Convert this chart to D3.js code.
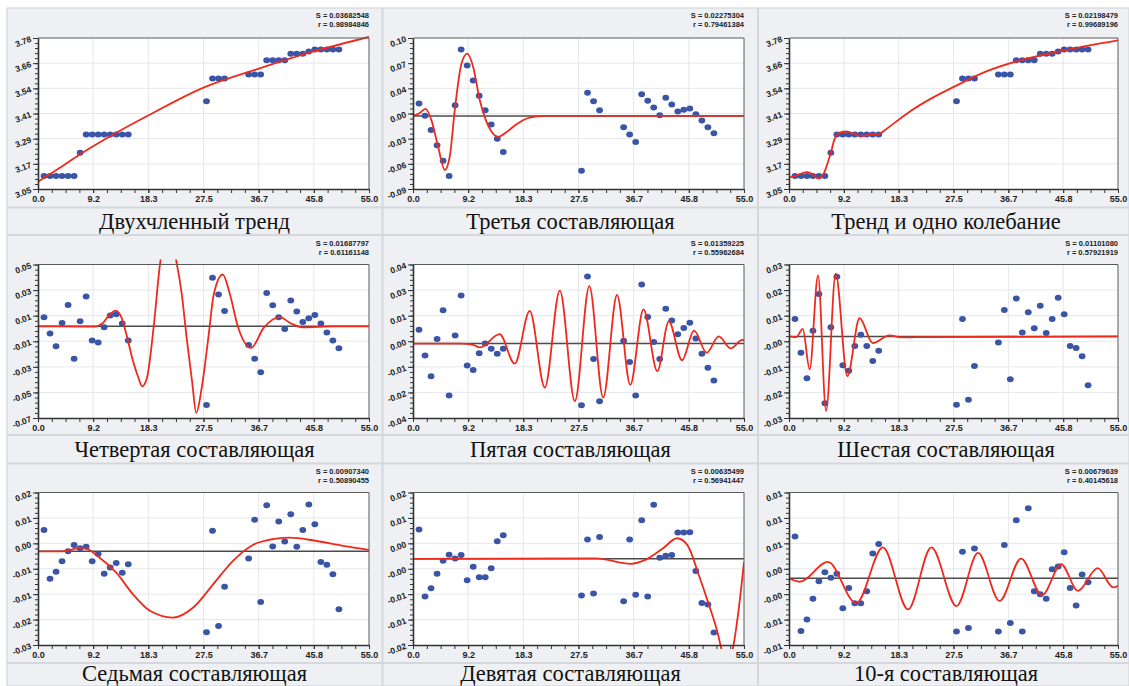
<!DOCTYPE html>
<html>
<head>
<meta charset="utf-8">
<script src="https://cdnjs.cloudflare.com/ajax/libs/d3/7.8.5/d3.min.js"></script>
<style>
  body { margin: 0; background: #fff; }
  svg { display: block; }
</style>
</head>
<body>
<div id="body"></div>
<script>
// x positions of the observations (same for every panel)
let xValues = [1, 2, 3, 4, 5, 6, 7, 8, 9, 10, 11, 12, 13, 14, 15,
  28, 29, 30, 31,
  35, 36, 37, 38, 39, 40, 41, 42, 43, 44, 45, 46, 47, 48, 49, 50]

let xTickLabels = ["0.0", "9.2", "18.3", "27.5", "36.7", "45.8", "55.0"]

// original series (panels 1 and 3)
let seriesLog = [3.113, 3.113, 3.113, 3.113, 3.113, 3.113, 3.225, 3.314, 3.314, 3.314, 3.314, 3.314, 3.314, 3.314, 3.314,
  3.474, 3.584, 3.584, 3.584,
  3.603, 3.603, 3.603, 3.672, 3.672, 3.672, 3.672, 3.704, 3.704, 3.704, 3.715, 3.724, 3.724, 3.724, 3.724, 3.724]

// residual components
let comp3 = [0.0176, 0.0021, -0.0159, -0.0348, -0.0544, -0.0737, 0.0155, 0.0854, 0.0653, 0.0464, 0.0272, 0.0092, -0.0088, -0.0268, -0.0435,
  -0.067, 0.031, 0.0205, 0.0092,
  -0.0122, -0.0214, -0.031, 0.0293, 0.0209, 0.0125, 0.0029, 0.0247, 0.0163, 0.0075, 0.0096, 0.0113, 0.0042, -0.0038, -0.0122, -0.0197]
let comp4 = [0.0088, -0.004, -0.0139, 0.0043, 0.0184, -0.0236, 0.0056, 0.025, -0.0095, -0.011, 0.001, 0.0101, 0.0111, 0.0038, -0.0095,
  -0.0598, 0.0396, 0.0265, 0.0137,
  -0.0129, -0.0236, -0.0343, 0.0278, 0.0182, 0.0088, -0.0004, 0.0218, 0.0132, 0.0051, 0.008, 0.0106, 0.0038, -0.0032, -0.0095, -0.0155]
let comp5 = [0.006, -0.0074, -0.0182, 0.0012, 0.0161, -0.0283, 0.003, 0.0239, -0.0126, -0.015, -0.0062, -0.0012, -0.0039, -0.0065, -0.0039,
  -0.0333, 0.0338, -0.0092, -0.0313,
  0.0002, -0.0108, -0.0283, 0.0296, 0.0126, -0.0004, -0.0092, 0.017, 0.0108, 0.0037, 0.0069, 0.0096, 0.0014, -0.0065, -0.0138, -0.0205]
let comp6 = [0.0087, -0.0045, -0.0145, 0.0041, 0.0185, -0.0242, 0.0055, 0.0252, -0.0094, -0.0115, -0.0019, 0.0025, -0.0019, -0.0077, -0.0037,
  -0.0248, 0.0087, -0.0229, -0.0097,
  -0.0005, 0.0122, -0.0149, 0.0167, 0.0034, 0.0113, 0.0051, 0.0139, 0.0032, 0.0087, 0.017, 0.0106, -0.0019, -0.0026, -0.0059, -0.0172]
let comp7 = [0.0077, -0.0083, -0.006, -0.0025, 0.0007, 0.0028, 0.0017, 0.0022, -0.0025, -0.0002, -0.0066, -0.0046, -0.0031, -0.0063, -0.0035,
  -0.0258, 0.0075, -0.0238, -0.0109,
  -0.0016, 0.0111, -0.0159, 0.0158, 0.0023, 0.0105, 0.0039, 0.0129, 0.0022, 0.0077, 0.0161, 0.0096, -0.0028, -0.0037, -0.0068, -0.0183]
let comp9 = [0.0103, -0.0073, -0.0051, -0.0013, 0.0021, 0.0037, 0.0027, 0.0036, -0.003, 0.0005, -0.0022, -0.0022, 0.0001, 0.0072, 0.0088,
  -0.007, 0.0077, -0.0065, 0.0083,
  -0.0085, 0.0077, -0.0068, 0.0127, -0.0073, 0.0168, 0.0029, 0.0034, 0.0036, 0.0095, 0.0095, 0.0096, -0.0006, -0.009, -0.0094, -0.0167]
let comp10 = [0.0062, -0.0105, -0.0085, -0.0048, -0.0017, -0.0001, -0.0011, -0.0004, -0.0065, -0.0029, -0.0056, -0.0056, -0.0035, 0.0032, 0.0049,
  -0.0106, 0.0035, -0.01, 0.0041,
  -0.0106, 0.0047, -0.0091, 0.0091, -0.0106, 0.0112, -0.0035, -0.004, -0.0048, 0.0004, 0.0009, 0.0034, -0.0029, -0.006, -0.0005, -0.0019]

// fitted curves, [x, y]
let fit1 = [[0, 3.085], [3.5, 3.15], [7, 3.218], [12, 3.305], [18.3, 3.405], [27.5, 3.54], [36.7, 3.632], [45.8, 3.715], [55, 3.785]]
let fit2 = [[0, 0.002], [1.0, 0.005], [2.1, 0.0109], [3.06, -0.0033], [4.17, -0.0368], [5.28, -0.0661], [6.1, -0.0494], [6.94, 0.0092],
  [8.06, 0.0678], [9.0, 0.0803], [10.0, 0.0636], [11.1, 0.0217], [12.1, -0.0033], [13.06, -0.018], [14.17, -0.0243], [15.6, -0.018],
  [17.2, -0.0084], [18.9, -0.0013], [20.6, 0.0013], [22.2, 0.002], [55, 0.002]]
let fit3 = [[0, 3.105], [1.5, 3.118], [2.9, 3.132], [4.0, 3.121], [4.85, 3.101], [5.7, 3.118], [6.2, 3.153], [7.0, 3.226], [7.6, 3.29],
  [8.5, 3.323], [9.6, 3.328], [11.0, 3.315], [12.1, 3.307], [13.2, 3.311], [14.3, 3.315], [15.2, 3.318], [16.0, 3.334], [17.7, 3.371],
  [20.4, 3.428], [23.8, 3.488], [27.7, 3.546], [33.3, 3.622], [38.8, 3.673], [44.4, 3.71], [50.0, 3.743], [55, 3.769]]
let fit4 = [[0, 0.0017], [7.5, 0.0015], [9.4, 0.0015], [10.8, 0.0043], [11.9, 0.0109], [12.9, 0.014], [13.9, 0.0083], [14.7, -0.0048],
  [15.8, -0.0257], [16.7, -0.0387], [17.3, -0.0452], [18.1, -0.0387], [19.2, 0.0004], [20.3, 0.0513], [21.6, 0.078], [22.9, 0.0547],
  [23.9, 0.0265], [24.7, -0.0074], [25.6, -0.0413], [26.3, -0.066], [27.2, -0.0465], [28.3, -0.0074], [29.2, 0.0265], [30.7, 0.0422],
  [31.9, 0.0265], [33.2, 0.0017], [35.4, -0.0152], [37.5, 0.0004], [40.2, 0.0088], [41.9, 0.0043], [43.9, 0.0009], [46.4, 0.0012],
  [49.2, 0.0017], [55, 0.0017]]
let fit5 = [[0, -0.0012], [7.8, -0.0012], [10.0, -0.0019], [11.1, -0.0032], [14.4, 0.0037], [16.9, -0.0117], [19.4, 0.0158],
  [21.9, -0.0241], [24.4, 0.0264], [26.9, -0.0312], [29.3, 0.0287], [31.6, -0.0294], [33.9, 0.0241], [36.1, -0.0227], [38.3, 0.0166],
  [40.6, -0.0156], [42.5, 0.0104], [44.7, -0.0099], [46.7, 0.0055], [48.8, -0.006], [50.8, 0.0025], [52.8, -0.0037], [54.7, 0.0007], [55, 0.0005]]
let fit6 = [[0, 0.0019], [1.2, 0.0016], [2.3, 0.0048], [3.45, -0.011], [4.85, 0.0257], [6.2, -0.0272], [7.8, 0.0264], [9.75, -0.0136],
  [11.8, 0.009], [14.0, -0.0007], [16.8, 0.0023], [18.8, 0.0015], [21.5, 0.0016], [55, 0.0019]]
let fit7 = [[0, 0.0007], [3.6, 0.0007], [7.5, 0.0019], [10.2, -0.0013], [13.0, -0.0063], [15.8, -0.0134], [18.6, -0.0188], [22.4, -0.021],
  [25.8, -0.0177], [29.1, -0.0101], [32.4, -0.0024], [35.7, 0.0028], [39.6, 0.0049], [41.8, 0.0052], [46.3, 0.0041], [50.7, 0.0025], [55, 0.0012]]
let fit9 = [[0, 0.0026], [30.4, 0.0027], [36.2, 0.0013], [38.7, 0.0024], [41.5, 0.0053], [43.9, 0.008], [45.6, 0.0062], [47.5, -0.0017],
  [49.2, -0.0096], [50.6, -0.0167], [51.4, -0.022], [52.3, -0.0255], [53.2, -0.0205], [54.2, -0.0096], [55, 0.0018]]
let fit10 = [[0, -0.0012], [1.8, -0.0018], [6.5, 0.0017], [11.25, -0.0056], [15.7, 0.0043], [19.9, -0.0067], [23.8, 0.0043], [28.0, -0.0061],
  [31.6, 0.0033], [35.2, -0.0052], [38.8, 0.0023], [42.3, -0.0042], [45.5, 0.0013], [48.3, -0.0034], [51.6, 0.0006], [54.2, -0.0028], [55, -0.0025]]

// y tick labels, bottom to top
let yLabelsTrend = ["3.05", "3.17", "3.29", "3.41", "3.54", "3.66", "3.78"]
let yLabels2 = ["-0.09", "-0.06", "-0.03", "0.00", "0.04", "0.07", "0.10"]
let yLabels4 = ["-0.07", "-0.05", "-0.03", "-0.01", "0.01", "0.03", "0.05"]
let yLabels5 = ["-0.04", "-0.02", "-0.01", "0.00", "0.01", "0.03", "0.04"]
let yLabels6 = ["-0.03", "-0.02", "-0.01", "-0.00", "0.01", "0.02", "0.03"]
let yLabels7 = ["-0.03", "-0.02", "-0.01", "-0.01", "0.00", "0.01", "0.02"]
let yLabels9 = ["-0.02", "-0.01", "-0.01", "-0.00", "0.00", "0.01", "0.02"]
let yLabels10 = ["-0.01", "-0.01", "-0.00", "0.00", "0.01", "0.01", "0.01"]

let captions = ["Двухчленный тренд", "Третья составляющая", "Тренд и одно колебание",
  "Четвертая составляющая", "Пятая составляющая", "Шестая составляющая",
  "Седьмая составляющая", "Девятая составляющая", "10-я составляющая"]
let sValues = ["0.03682548", "0.02275304", "0.02198479", "0.01687797", "0.01359225", "0.01101080", "0.00907340", "0.00635499", "0.00679639"]
let rValues = ["0.98984846", "0.79461384", "0.99689196", "0.61161148", "0.55962684", "0.57921919", "0.50890455", "0.56941447", "0.40145618"]

let charts = [
  { values: seriesLog, fit: fit1, domain: [3.05, 3.78], labels: yLabelsTrend, base: null },
  { values: comp3, fit: fit2, domain: [-0.09, 0.10], labels: yLabels2, base: 0.002 },
  { values: seriesLog, fit: fit3, domain: [3.05, 3.78], labels: yLabelsTrend, base: null },
  { values: comp4, fit: fit4, domain: [-0.07, 0.05], labels: yLabels4, base: 0.0017 },
  { values: comp5, fit: fit5, domain: [-0.04, 0.04], labels: yLabels5, base: -0.0012 },
  { values: comp6, fit: fit6, domain: [-0.03, 0.03], labels: yLabels6, base: 0.0019 },
  { values: comp7, fit: fit7, domain: [-0.03, 0.02], labels: yLabels7, base: 0.0007 },
  { values: comp9, fit: fit9, domain: [-0.02, 0.02], labels: yLabels9, base: 0.0026 },
  { values: comp10, fit: fit10, domain: [-0.013, 0.014], labels: yLabels10, base: -0.0012 }
]

// layout of the 3x3 table
let W = 1129, H = 686
let plotLeft = [38, 413, 789], plotRight = [369, 744, 1118]
let plotTop = [38, 264.5, 492.5], plotBottom = [189, 418, 645]
let rowTop = [8, 236, 464]
let captionBase = [229, 457, 681]
let colCenter = [194.5, 570.5, 946]

let svg = d3.select("#body")
  .append("svg")
  .attr("width", W)
  .attr("height", H)
  .style("font-family", "'Liberation Sans', Arial, sans-serif")

svg.append("rect").attr("width", W).attr("height", H).attr("fill", "#fff")
svg.append("rect")
  .attr("x", 7).attr("y", 8)
  .attr("width", W - 7).attr("height", H - 8)
  .attr("fill", "#eef0f3")
  .attr("stroke", "#cdd0d4")

// table dividers
let hLines = [207.5, 235, 435, 463.5, 663]
let vLines = [382.5, 758]
svg.selectAll(".hline").data(hLines).enter().append("line")
  .attr("x1", 7).attr("x2", W).attr("y1", d => d).attr("y2", d => d)
  .attr("stroke", "#d4d7db").attr("stroke-width", 2)
svg.selectAll(".vline").data(vLines).enter().append("line")
  .attr("x1", d => d).attr("x2", d => d).attr("y1", 8).attr("y2", H)
  .attr("stroke", "#d4d7db").attr("stroke-width", 2)

charts.forEach(function (c, i) {
  let row = Math.floor(i / 3), col = i % 3
  let L = plotLeft[col], R = plotRight[col], T = plotTop[row], B = plotBottom[row]

  let x = d3.scaleLinear().domain([0, 55]).range([L, R])
  let y = d3.scaleLinear().domain(c.domain).range([B, T])

  let xMajor = d3.range(7).map(k => 55 * k / 6)
  let xMinor = d3.range(25).map(k => 55 * k / 24)
  let yMajor = d3.range(7).map(k => c.domain[0] + (c.domain[1] - c.domain[0]) * k / 6)
  let yMinor = d3.range(31).map(k => c.domain[0] + (c.domain[1] - c.domain[0]) * k / 30)

  let g = svg.append("g")

  g.append("rect")
    .attr("x", L).attr("y", T)
    .attr("width", R - L).attr("height", B - T)
    .attr("fill", "#fff")

  // grid
  g.selectAll(".gx").data(xMajor.slice(1, 6)).enter().append("line")
    .attr("x1", d => x(d)).attr("x2", d => x(d)).attr("y1", T).attr("y2", B)
    .attr("stroke", "#e6e7e9").attr("stroke-width", 1)
  g.selectAll(".gy").data(yMajor.slice(1, 6)).enter().append("line")
    .attr("x1", L).attr("x2", R).attr("y1", d => y(d)).attr("y2", d => y(d))
    .attr("stroke", "#e6e7e9").attr("stroke-width", 1)

  g.append("clipPath").attr("id", "clip" + i)
    .append("rect")
    .attr("x", L).attr("y", T - 5)
    .attr("width", R - L).attr("height", B - T + 9)

  let inner = g.append("g").attr("clip-path", "url(#clip" + i + ")")

  if (c.base !== null) {
    inner.append("line")
      .attr("x1", L).attr("x2", R)
      .attr("y1", y(c.base)).attr("y2", y(c.base))
      .attr("stroke", "#4a4a4a").attr("stroke-width", 1.5)
  }

  inner.selectAll("ellipse")
    .data(c.values)
    .enter()
    .append("ellipse")
    .attr("cx", (d, k) => x(xValues[k]))
    .attr("cy", d => y(d))
    .attr("rx", 3.4)
    .attr("ry", 3.0)
    .attr("fill", "#3a55a6")

  inner.append("path")
    .datum(c.fit)
    .attr("d", d3.line()
      .x(d => x(d[0]))
      .y(d => y(d[1]))
      .curve(d3.curveMonotoneX))
    .attr("fill", "none")
    .attr("stroke", "#ee2a1e")
    .attr("stroke-width", 1.8)

  // frame (top and right)
  g.append("path")
    .attr("d", "M" + L + "," + T + "H" + R + "V" + B)
    .attr("fill", "none")
    .attr("stroke", "#5a5a5a")
    .attr("stroke-width", 1)

  // y axis
  g.append("g")
    .attr("transform", "translate(" + L + ",0)")
    .call(d3.axisLeft(y).tickValues(yMinor).tickSize(3).tickFormat("").tickSizeOuter(0))
    .call(a => a.select(".domain").remove())
    .call(a => a.selectAll("line").attr("stroke", "#333"))
  let ya = g.append("g")
    .attr("transform", "translate(" + L + ",0)")
    .call(d3.axisLeft(y).tickValues(yMajor).tickSize(5).tickSizeOuter(0)
      .tickFormat((d, k) => c.labels[k]))
  ya.select(".domain").attr("stroke", "#333").attr("stroke-width", 1.6)
  ya.selectAll("line").attr("stroke", "#333")
  ya.selectAll("text")
    .attr("x", null).attr("dy", null)
    .attr("transform", "translate(-6,3) rotate(-20)")
    .attr("font-size", 8.5)
    .attr("font-weight", "bold")
    .attr("font-family", "'Liberation Sans', Arial, sans-serif")
    .attr("fill", "#222")

  // x axis
  g.append("g")
    .attr("transform", "translate(0," + B + ")")
    .call(d3.axisBottom(x).tickValues(xMinor).tickSize(4).tickFormat("").tickSizeOuter(0))
    .call(a => a.select(".domain").remove())
    .call(a => a.selectAll("line").attr("stroke", "#333"))
  let xa = g.append("g")
    .attr("transform", "translate(0," + B + ")")
    .call(d3.axisBottom(x).tickValues(xMajor).tickSize(4).tickPadding(3).tickSizeOuter(0)
      .tickFormat((d, k) => xTickLabels[k]))
  xa.select(".domain").attr("stroke", "#333").attr("stroke-width", 1.6)
  xa.selectAll("line").attr("stroke", "#333")
  xa.selectAll("text")
    .attr("font-size", 9)
    .attr("font-weight", "bold")
    .attr("font-family", "'Liberation Sans', Arial, sans-serif")
    .attr("fill", "#222")

  // statistics
  g.append("text")
    .attr("x", R).attr("y", rowTop[row] + 10)
    .attr("text-anchor", "end")
    .attr("font-size", 7.5)
    .attr("font-weight", "bold")
    .attr("fill", "#222")
    .text("S = " + sValues[i])
  g.append("text")
    .attr("x", R).attr("y", rowTop[row] + 19)
    .attr("text-anchor", "end")
    .attr("font-size", 7.5)
    .attr("font-weight", "bold")
    .attr("fill", "#222")
    .text("r = " + rValues[i])

  // caption
  g.append("text")
    .attr("x", colCenter[col]).attr("y", captionBase[row])
    .attr("text-anchor", "middle")
    .attr("font-family", "'Liberation Serif', 'Times New Roman', serif")
    .attr("font-size", 22.5)
    .attr("fill", "#111")
    .text(captions[i])
})
</script>
</body>
</html>
